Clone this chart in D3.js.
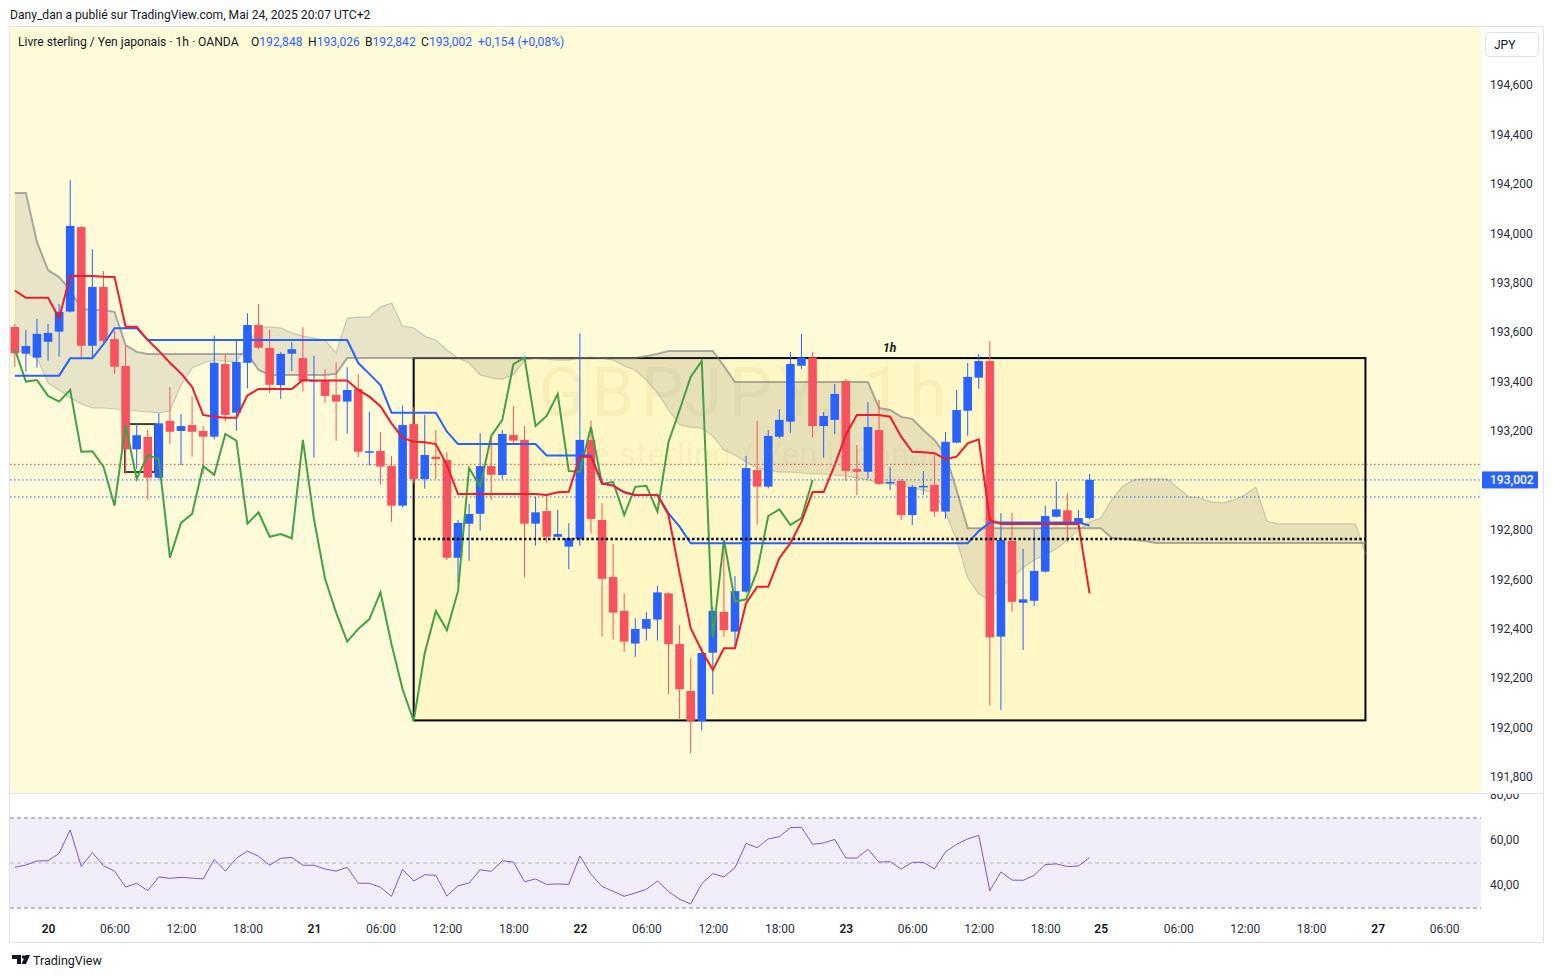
<!DOCTYPE html>
<meta charset="utf-8">
<style>
  body { margin: 0; background: #fff; }
  text { font-family: Roboto, "Noto Sans", sans-serif; }
</style>
<svg width="1553" height="978"></svg>
<script src="https://d3js.org/d3.v7.min.js"></script>
<script>
// GBPJPY 1h, OANDA - bars from 19 mai 21:00 to 23 mai 22:00 (index 0..97)
var open = [193.621,193.513,193.497,193.561,193.602,193.683,194.025,193.545,193.783,193.572,
  193.463,193.126,193.176,193.011,193.241,193.200,193.224,193.200,193.177,193.471,
  193.274,193.476,193.629,193.536,193.386,193.513,193.495,193.402,193.404,193.346,
  193.319,193.370,193.116,193.119,193.058,192.898,193.228,193.006,193.096,193.083,
  192.687,192.825,192.865,193.058,193.022,193.184,193.164,192.825,192.876,192.772,
  192.732,192.763,193.164,192.840,192.609,192.472,192.340,192.400,192.437,192.543,
  192.338,192.148,192.027,192.303,192.468,192.388,192.550,193.042,192.975,193.177,
  193.238,193.464,193.497,193.220,193.245,193.402,193.046,193.035,193.204,192.990,
  192.998,192.860,192.975,192.982,192.874,193.153,193.282,193.416,193.483,192.368,
  192.755,192.505,192.513,192.631,192.853,192.879,192.827,192.848];
var high = [193.633,193.609,193.653,193.633,193.714,194.216,194.030,193.936,193.847,193.605,
  193.544,193.231,193.204,193.272,193.378,193.269,193.339,193.220,193.586,193.508,
  193.565,193.676,193.714,193.609,193.519,193.559,193.620,193.504,193.450,193.478,
  193.458,193.431,193.277,193.196,193.099,193.304,193.296,193.265,193.204,193.114,
  192.840,192.905,193.191,193.180,193.204,193.301,193.220,192.934,192.945,192.880,
  192.827,193.595,193.241,192.908,192.743,192.543,192.442,192.467,192.573,192.547,
  192.415,192.280,192.325,192.487,192.759,192.613,193.099,193.241,193.204,193.288,
  193.519,193.593,193.519,193.277,193.390,193.410,193.143,193.317,193.326,193.054,
  193.006,192.982,193.038,193.103,193.196,193.366,193.475,193.512,193.564,192.868,
  192.868,192.723,192.802,192.897,192.995,192.948,192.880,193.026];
var low = [193.459,193.440,193.456,193.485,193.501,193.680,193.490,193.494,193.555,193.431,
  193.025,193.046,192.921,193.005,193.147,193.061,193.096,193.026,193.166,193.238,
  193.201,193.373,193.532,193.353,193.330,193.443,193.359,193.092,193.315,193.161,
  193.189,193.094,193.060,192.983,192.833,192.890,192.988,192.967,193.006,192.678,
  192.584,192.675,192.797,192.921,193.006,193.143,192.607,192.736,192.748,192.770,
  192.641,192.736,192.786,192.368,192.357,192.307,192.287,192.352,192.352,192.135,
  192.031,191.896,191.988,192.135,192.368,192.321,192.545,192.821,192.968,193.170,
  193.193,193.451,193.175,193.092,193.187,192.998,192.941,193.007,192.982,192.961,
  192.840,192.820,192.941,192.853,192.845,193.150,193.181,193.371,192.089,192.071,
  192.469,192.314,192.492,192.627,192.850,192.752,192.810,192.842];
var close = [193.514,193.544,193.593,193.597,193.682,194.030,193.545,193.783,193.565,193.460,
  193.126,193.183,193.011,193.231,193.197,193.220,193.197,193.177,193.476,193.265,
  193.479,193.629,193.537,193.387,193.512,193.531,193.400,193.406,193.342,193.319,
  193.366,193.116,193.118,193.056,192.898,193.224,193.006,193.103,193.086,192.687,
  192.828,192.864,193.058,193.023,193.188,193.161,192.825,192.871,192.772,192.783,
  192.766,193.164,192.844,192.602,192.465,192.348,192.399,192.439,192.547,192.337,
  192.155,192.027,192.302,192.472,192.394,192.552,193.050,192.975,193.180,193.245,
  193.471,193.497,193.220,193.261,193.350,193.038,193.035,193.216,192.986,192.994,
  192.860,192.974,192.978,192.874,193.156,193.285,193.419,193.483,192.365,192.759,
  192.509,192.519,192.634,192.856,192.883,192.820,192.848,193.002];

// Ichimoku lines, read per bar
var tenkan = [193.768,193.739,193.739,193.739,193.657,193.827,193.827,193.827,193.824,193.823,
  193.622,193.622,193.568,193.524,193.476,193.433,193.379,193.265,193.258,193.254,
  193.254,193.344,193.370,193.370,193.370,193.370,193.406,193.404,193.404,193.404,
  193.404,193.366,193.339,193.300,193.231,193.172,193.157,193.154,193.147,193.062,
  192.945,192.945,192.945,192.945,192.945,192.945,192.945,192.945,192.941,192.952,
  192.954,193.096,193.096,192.988,192.979,192.952,192.941,192.941,192.941,192.860,
  192.624,192.402,192.311,192.233,192.321,192.321,192.503,192.570,192.570,192.685,
  192.746,192.833,192.953,192.953,193.062,193.184,193.265,193.265,193.265,193.258,
  193.177,193.116,193.114,193.110,193.086,193.096,193.150,193.166,192.840,192.824,
  192.824,192.824,192.824,192.824,192.824,192.824,192.824,192.543];
var kijun = [193.424,193.424,193.424,193.424,193.424,193.494,193.494,193.494,193.551,193.616,
  193.616,193.616,193.568,193.568,193.568,193.568,193.568,193.568,193.568,193.568,
  193.568,193.568,193.568,193.568,193.568,193.568,193.568,193.568,193.568,193.568,
  193.568,193.475,193.431,193.386,193.274,193.274,193.274,193.274,193.274,193.197,
  193.147,193.147,193.147,193.147,193.147,193.147,193.147,193.147,193.101,193.101,
  193.101,193.101,193.101,192.988,192.979,192.952,192.941,192.941,192.941,192.867,
  192.813,192.746,192.746,192.746,192.746,192.746,192.746,192.746,192.746,192.746,
  192.746,192.746,192.746,192.746,192.746,192.746,192.746,192.746,192.746,192.746,
  192.746,192.746,192.746,192.746,192.746,192.746,192.746,192.795,192.830,192.830,
  192.830,192.830,192.830,192.830,192.830,192.830,192.830,192.818];
// cloud, already displaced 25 bars forward (index 0..122)
var spanA = [193.528,193.516,193.495,193.394,193.366,193.334,193.309,193.293,193.293,193.289,
  193.285,193.281,193.277,193.273,193.281,193.386,193.455,193.475,193.487,193.483,
  193.479,193.548,193.617,193.621,193.617,193.597,193.584,193.576,193.568,193.516,
  193.657,193.661,193.661,193.702,193.718,193.625,193.617,193.584,193.568,193.528,
  193.495,193.475,193.427,193.414,193.410,193.427,193.487,193.495,193.491,193.487,
  193.487,193.495,193.499,193.495,193.487,193.463,193.447,193.406,193.354,193.285,
  193.224,193.216,193.212,193.180,193.123,193.103,193.075,193.050,193.042,193.034,
  193.034,193.030,193.026,193.026,193.022,193.018,193.010,193.002,192.990,192.986,
  192.982,192.969,192.961,192.949,192.868,192.759,192.605,192.540,192.516,192.569,
  192.605,192.646,192.678,192.698,192.723,192.759,192.799,192.832,192.848,192.921,
  192.977,193.002,193.006,193.006,193.006,192.969,192.933,192.929,192.913,192.909,
  192.921,192.941,192.973,192.836,192.824,192.824,192.824,192.824,192.824,192.824,
  192.824,192.824,192.690];
var spanB = [194.163,194.163,193.965,193.851,193.823,193.771,193.694,193.690,193.690,193.682,
  193.548,193.520,193.512,193.512,193.512,193.512,193.512,193.512,193.512,193.512,
  193.512,193.512,193.447,193.427,193.427,193.427,193.427,193.427,193.427,193.431,
  193.495,193.495,193.495,193.495,193.495,193.495,193.495,193.495,193.495,193.495,
  193.495,193.495,193.495,193.495,193.495,193.495,193.495,193.495,193.495,193.495,
  193.495,193.495,193.495,193.495,193.495,193.495,193.495,193.503,193.512,193.524,
  193.524,193.524,193.524,193.524,193.463,193.398,193.398,193.398,193.398,193.398,
  193.398,193.398,193.398,193.398,193.398,193.398,193.398,193.398,193.293,193.285,
  193.257,193.249,193.204,193.164,193.103,192.961,192.807,192.807,192.807,192.807,
  192.807,192.807,192.807,192.807,192.807,192.807,192.807,192.807,192.807,192.767,
  192.763,192.759,192.755,192.747,192.747,192.747,192.747,192.747,192.747,192.747,
  192.747,192.747,192.747,192.747,192.747,192.747,192.747,192.747,192.747,192.747,
  192.747,192.747,192.747];
var chikouShift = 25;

// RSI 14
var rsi = [48.1,49.1,50.9,51.0,54.3,64.7,48.4,54.6,48.8,46.4,
  39.3,41.0,37.7,43.8,43.2,43.6,43.3,42.9,51.6,46.4,
  52.1,55.3,53.0,49.0,52.1,52.5,49.0,49.0,47.3,46.4,
  48.1,41.0,41.0,39.2,35.2,47.2,42.0,44.8,44.5,35.3,
  39.9,41.1,47.0,46.3,51.0,50.4,41.7,42.9,40.5,40.7,
  40.5,53.1,45.0,39.6,37.4,35.2,36.7,38.3,42.0,37.3,
  33.9,31.8,40.8,45.3,43.8,47.9,58.7,56.8,60.7,61.7,
  65.7,65.9,58.3,58.9,60.5,52.2,52.2,56.1,50.4,50.6,
  47.3,50.3,50.3,47.3,55.0,58.3,60.7,62.3,37.7,46.0,
  42.4,42.3,44.5,49.3,49.6,48.4,48.7,52.4];

// drawings
var levelRed = 193.065, levelBlue1 = 193.002, levelBlue2 = 192.933;
var boxRange = [36, 121.9], boxPrice = [192.029, 193.495], boxMid = 192.763;
var smallBoxRange = [9.95, 12.65], smallBoxPrice = [193.034, 193.228];

// axes
var priceTicks = d3.range(0, 15).map(function(k) { return 191.8 + k * 0.2; });
var rsiTicks = [80, 60, 40];
var timeIdx = [3, 9, 15, 21, 27, 33, 39, 45, 51, 57, 63, 69, 75, 81, 87, 93, 98, 105, 111, 117, 123, 129];
var timeLabels = ["20", "06:00", "12:00", "18:00", "21", "06:00", "12:00", "18:00", "22", "06:00", "12:00", "18:00",
  "23", "06:00", "12:00", "18:00", "25", "06:00", "12:00", "18:00", "27", "06:00"];

var svg = d3.select("svg");
var pane = {left: 10, right: 1481, top: 27, bottom: 793};
var x = d3.scaleLinear().domain([0, 97]).range([14.8, 14.8 + 11.08 * 97]);
var y = d3.scaleLinear().domain([191.8, 194.6]).range([777, 85]);
var yr = d3.scaleLinear().domain([30, 70]).range([908, 818]);
var comma = function(v, n) { return v.toFixed(n).replace(".", ","); };
var up = "#2962ff", down = "#f7525f";

svg.append("text").attr("x", 10).attr("y", 18.5).attr("font-size", 12.1).attr("fill", "#131722")
  .text("Dany_dan a publié sur TradingView.com, Mai 24, 2025 20:07 UTC+2");

// frame
svg.append("rect").attr("x", 9.5).attr("y", 26.5).attr("width", 1534).attr("height", 916)
  .attr("fill", "#fff").attr("stroke", "#e0e3eb");

var defs = svg.append("defs");
defs.append("clipPath").attr("id", "clipMain").append("rect")
  .attr("x", pane.left).attr("y", pane.top).attr("width", pane.right - pane.left).attr("height", pane.bottom - pane.top);
defs.append("clipPath").attr("id", "clipRsi").append("rect")
  .attr("x", pane.left).attr("y", pane.bottom + 1).attr("width", 1534).attr("height", 148);

var g = svg.append("g").attr("clip-path", "url(#clipMain)");
g.append("rect").attr("x", pane.left).attr("y", pane.top)
  .attr("width", pane.right - pane.left).attr("height", pane.bottom - pane.top).attr("fill", "#fffad8");

// watermark
g.append("text").attr("x", 746).attr("y", 416).attr("text-anchor", "middle").attr("font-size", 68)
  .attr("letter-spacing", 7).attr("fill", "rgba(120,110,50,0.07)").text("GBPJPY, 1h");
g.append("text").attr("x", 746).attr("y", 465).attr("text-anchor", "middle").attr("font-size", 32)
  .attr("letter-spacing", 0.8).attr("fill", "rgba(120,110,50,0.07)").text("Livre sterling / Yen japonais");

// rectangle drawing
g.append("rect").attr("x", x(boxRange[0])).attr("y", y(boxPrice[1]))
  .attr("width", x(boxRange[1]) - x(boxRange[0])).attr("height", y(boxPrice[0]) - y(boxPrice[1]))
  .attr("fill", "rgba(255,232,70,0.13)").attr("stroke", "#000").attr("stroke-width", 2);
g.append("rect").attr("x", x(smallBoxRange[0])).attr("y", y(smallBoxPrice[1]))
  .attr("width", x(smallBoxRange[1]) - x(smallBoxRange[0])).attr("height", y(smallBoxPrice[0]) - y(smallBoxPrice[1]))
  .attr("fill", "none").attr("stroke", "rgba(30,30,10,0.85)").attr("stroke-width", 2);

// cloud
var cloud = spanA.map(function(a, i) { return {i: i, a: a, b: spanB[i]}; });
g.append("path").datum(cloud)
  .attr("d", d3.area().x(function(d) { return x(d.i); }).y0(function(d) { return y(d.a); }).y1(function(d) { return y(d.b); }))
  .attr("fill", "rgba(128,128,128,0.18)");
g.append("path").datum(cloud)
  .attr("d", d3.line().x(function(d) { return x(d.i); }).y(function(d) { return y(d.a); }))
  .attr("fill", "none").attr("stroke", "rgba(128,128,128,0.35)").attr("stroke-width", 1.2);
g.append("path").datum(cloud)
  .attr("d", d3.line().x(function(d) { return x(d.i); }).y(function(d) { return y(d.b); }))
  .attr("fill", "none").attr("stroke", "rgba(120,120,120,0.6)").attr("stroke-width", 2);

// level lines
[[levelRed, "#f23645"], [levelBlue1, up], [levelBlue2, up]].forEach(function(l) {
  g.append("line").attr("x1", pane.left).attr("x2", pane.right).attr("y1", y(l[0])).attr("y2", y(l[0]))
    .attr("stroke", l[1]).attr("stroke-width", 1).attr("stroke-dasharray", "1.5,2.5");
});

// candles
var bars = close.map(function(c, i) { return {i: i, o: open[i], h: high[i], l: low[i], c: c}; });
var cg = g.append("g").selectAll("g").data(bars).enter().append("g");
cg.append("line")
  .attr("x1", function(d) { return x(d.i); }).attr("x2", function(d) { return x(d.i); })
  .attr("y1", function(d) { return y(d.h); }).attr("y2", function(d) { return y(d.l); })
  .attr("stroke", function(d) { return d.c >= d.o ? up : down; }).attr("stroke-width", 1);
cg.append("rect")
  .attr("x", function(d) { return x(d.i) - 4.3; }).attr("width", 8.6)
  .attr("y", function(d) { return y(Math.max(d.o, d.c)); })
  .attr("height", function(d) { return Math.max(1.5, Math.abs(y(d.o) - y(d.c))); })
  .attr("fill", function(d) { return d.c >= d.o ? up : down; });

// ichimoku lines
var line = function(arr, off) {
  return d3.line().x(function(d, i) { return x(i + off); }).y(function(d) { return y(d); })(arr);
};
g.append("path").attr("d", line(close.slice(chikouShift), 0))
  .attr("fill", "none").attr("stroke", "#43a047").attr("stroke-width", 2);
g.append("path").attr("d", line(kijun, 0))
  .attr("fill", "none").attr("stroke", "#2962ff").attr("stroke-width", 2);
g.append("path").attr("d", line(tenkan, 0))
  .attr("fill", "none").attr("stroke", "#ee1c2c").attr("stroke-width", 2);

// box middle dotted line + label
g.append("line").attr("x1", x(boxRange[0])).attr("x2", x(boxRange[1]))
  .attr("y1", y(boxMid)).attr("y2", y(boxMid))
  .attr("stroke", "#000").attr("stroke-width", 2.5).attr("stroke-dasharray", "2.4,2.4");
g.append("text").attr("x", (x(boxRange[0]) + x(boxRange[1])) / 2).attr("y", y(boxPrice[1]) - 6)
  .attr("text-anchor", "middle").attr("font-size", 12).attr("font-style", "italic").attr("font-weight", "bold")
  .attr("fill", "#131722").text("1h");

// legend
var leg = svg.append("text").attr("y", 45.5).attr("font-size", 12.1).attr("fill", "#131722");
leg.append("tspan").attr("x", 18).text("Livre sterling / Yen japonais · 1h · OANDA");
[["O", 192.848, 251], ["H", 193.026, 308], ["B", 192.842, 365], ["C", 193.002, 421]].forEach(function(o) {
  leg.append("tspan").attr("x", o[2]).text(o[0]);
  leg.append("tspan").attr("fill", up).text(comma(o[1], 3));
});
leg.append("tspan").attr("x", 478).attr("fill", up).text("+0,154 (+0,08%)");

// price axis
var pa = svg.append("g").attr("transform", "translate(1484,0)")
  .call(d3.axisRight(y).tickValues(priceTicks).tickSize(0).tickPadding(6).tickFormat(function(v) { return comma(v, 3); }));
pa.select(".domain").remove();
pa.selectAll("text").attr("font-family", "Roboto, sans-serif").attr("font-size", 12).attr("fill", "#2a2e39");

// JPY button
svg.append("rect").attr("x", 1485.5).attr("y", 32.5).attr("width", 53).attr("height", 24).attr("rx", 4)
  .attr("fill", "#fff").attr("stroke", "#e0e3eb");
svg.append("text").attr("x", 1494).attr("y", 48.5).attr("font-size", 12).attr("fill", "#131722").text("JPY");

// last price label
svg.append("rect").attr("x", 1482).attr("y", y(close[97]) - 8.5).attr("width", 56).attr("height", 17).attr("fill", up);
svg.append("text").attr("x", 1490).attr("y", y(close[97]) + 4.3).attr("font-size", 12).attr("font-weight", 500)
  .attr("fill", "#fff").text(comma(close[97], 3));

// separator
svg.append("line").attr("x1", pane.left).attr("x2", 1543).attr("y1", pane.bottom + 0.5).attr("y2", pane.bottom + 0.5)
  .attr("stroke", "#e0e3eb");

// RSI pane
var rg = svg.append("g").attr("clip-path", "url(#clipRsi)");
rg.append("rect").attr("x", pane.left).attr("width", pane.right - pane.left)
  .attr("y", yr(70)).attr("height", yr(30) - yr(70)).attr("fill", "rgba(126,87,194,0.1)");
[[70, 0.9], [50, 0.5], [30, 0.9]].forEach(function(l) {
  rg.append("line").attr("x1", pane.left).attr("x2", pane.right).attr("y1", yr(l[0])).attr("y2", yr(l[0]))
    .attr("stroke", "rgba(120,123,134," + l[1] + ")").attr("stroke-dasharray", "4,3");
});
rg.append("path").attr("d", d3.line().x(function(d, i) { return x(i); }).y(function(d) { return yr(d); })(rsi))
  .attr("fill", "none").attr("stroke", "#7e57c2").attr("stroke-width", 1);
var ra = rg.append("g").attr("transform", "translate(1484,-1)")
  .call(d3.axisRight(yr).tickValues(rsiTicks).tickSize(0).tickPadding(6).tickFormat(function(v) { return comma(v, 2); }));
ra.select(".domain").remove();
ra.selectAll("text").attr("font-family", "Roboto, sans-serif").attr("font-size", 12).attr("fill", "#2a2e39");

// time axis
var ta = svg.append("g").attr("transform", "translate(0,922)")
  .call(d3.axisBottom(x).tickValues(timeIdx).tickSize(0).tickPadding(2).tickFormat(function(d, i) { return timeLabels[i]; }));
ta.select(".domain").remove();
ta.selectAll("text").attr("font-family", "Roboto, sans-serif").attr("font-size", 12)
  .attr("fill", function(d, i) { return timeLabels[i].indexOf(":") < 0 ? "#131722" : "#2a2e39"; })
  .attr("font-weight", function(d, i) { return timeLabels[i].indexOf(":") < 0 ? 600 : 400; });

// footer logo
var logo = svg.append("g").attr("fill", "#131722");
logo.append("path").attr("d", "M12 955h9v9h-4v-5h-5z");
logo.append("circle").attr("cx", 23.5).attr("cy", 957).attr("r", 1.8);
logo.append("path").attr("d", "M25.5 955h4.5l-4 9h-4.5z");
svg.append("text").attr("x", 33).attr("y", 964.5).attr("font-size", 12.5).attr("fill", "#131722").text("TradingView");
</script>
